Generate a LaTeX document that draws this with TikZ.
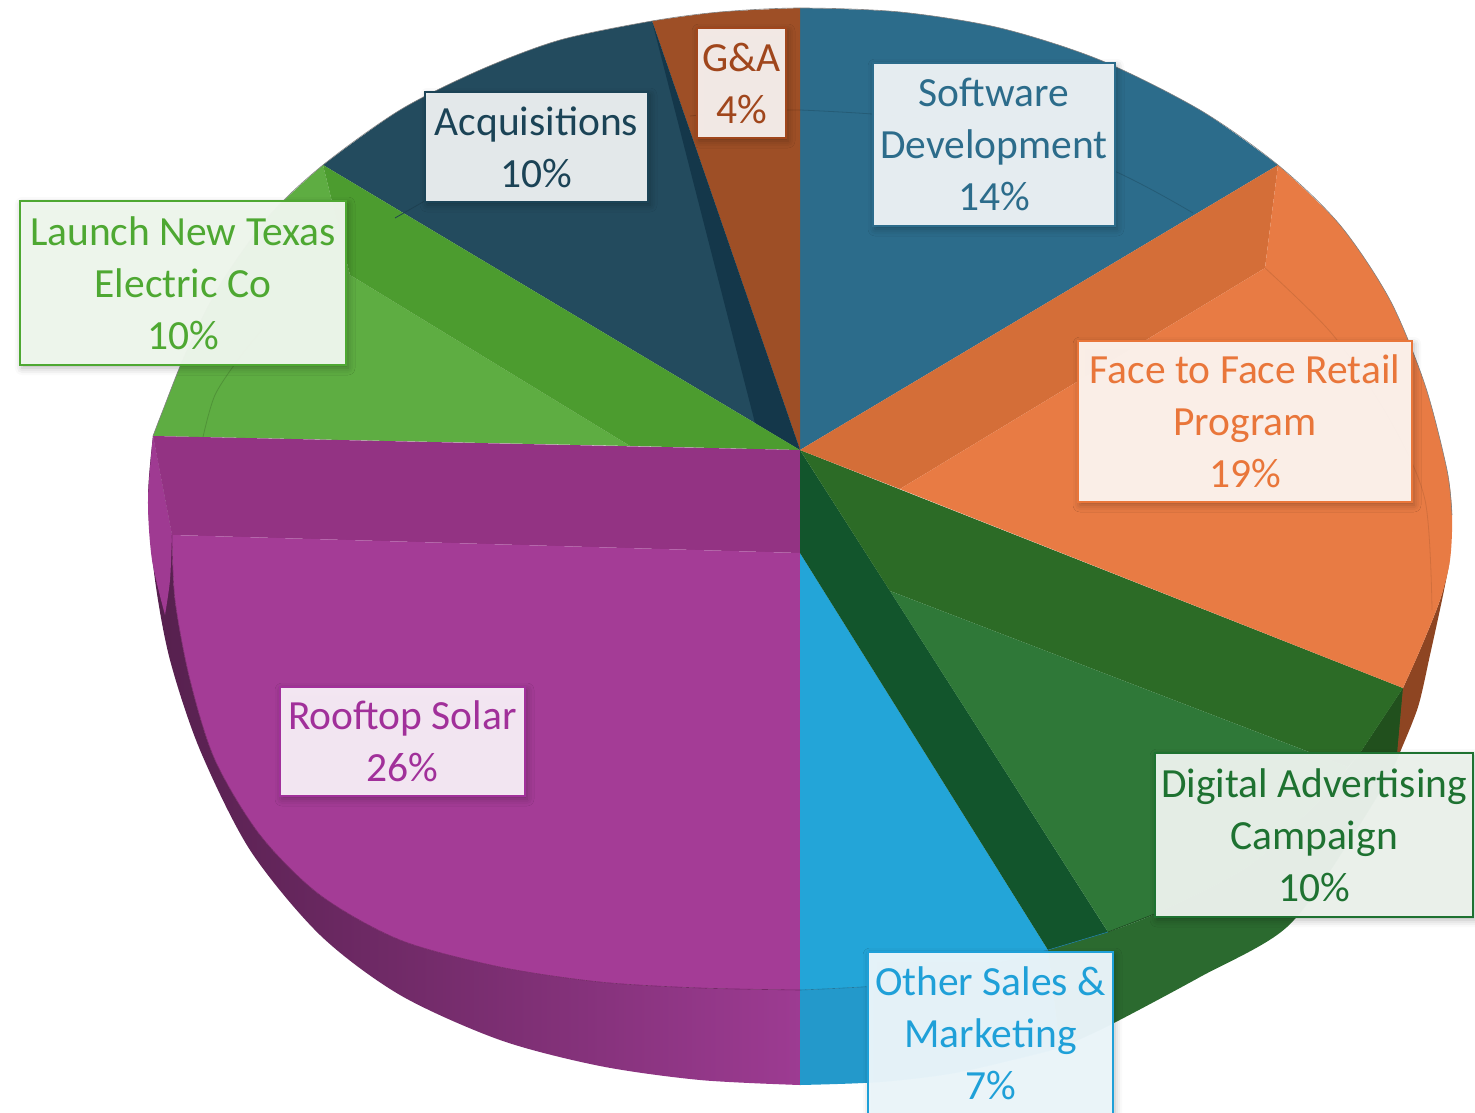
\documentclass[tikz,border=0pt]{standalone}
\usepackage{fontspec}
\setmainfont{Carlito}
\usetikzlibrary{shadows.blur}

\definecolor{softblue}{HTML}{2C6C8B}
\definecolor{gabrown}{HTML}{9E4F26}
\definecolor{gatext}{HTML}{A0461C}
\definecolor{acqnavy}{HTML}{234B5E}
\definecolor{acqband}{HTML}{14374A}
\definecolor{acqtext}{HTML}{1B4356}
\definecolor{launchgreen}{HTML}{5EAD42}
\definecolor{launchwall}{HTML}{4C9C2F}
\definecolor{launchtext}{HTML}{4EA832}
\definecolor{roofpurple}{HTML}{A43C96}
\definecolor{roofband}{HTML}{933383}
\definecolor{roofdark}{HTML}{55204D}
\definecolor{roofmid}{HTML}{8E3785}
\definecolor{roofright}{HTML}{9D3B92}
\definecolor{rooftext}{HTML}{A1309A}
\definecolor{otherblue}{HTML}{23A5D8}
\definecolor{otherside}{HTML}{2399CB}
\definecolor{othertext}{HTML}{1FA0D8}
\definecolor{digband}{HTML}{12552C}
\definecolor{digwall}{HTML}{2C6B26}
\definecolor{digtop}{HTML}{2F7838}
\definecolor{digside}{HTML}{2B6A2F}
\definecolor{digtext}{HTML}{1E7231}
\definecolor{faceorange}{HTML}{E87B44}
\definecolor{facewall}{HTML}{D46E38}
\definecolor{faceside}{HTML}{8E4522}
\definecolor{facetext}{HTML}{E9763A}

\begin{document}
\begin{tikzpicture}[x=1pt,y=-1pt,
every node/.style={align=center, inner sep=0pt, font=\fontsize{41.5}{52}\selectfont},
tag/.style={draw=#1, fill=#1!9, text=#1, line width=1.8pt,
    fill opacity=0.97, text opacity=1,
    blur shadow={shadow xshift=2pt, shadow yshift=-3pt,
        shadow blur radius=7pt, shadow opacity=30}},
bevel/.style={draw=#1, line width=0.8pt},
rim/.style={draw=#1, line width=0.6pt}]

\useasboundingbox (0,0) rectangle (1475,1113);
\coordinate (c) at (800,450);

% side walls
\shade[left color=roofdark, middle color=roofmid, right color=roofright]
  (800,990) -- plot[smooth] coordinates {(800,990) (700,988) (600,982) (500,967)
  (400,940) (320,895) (260,835) (215,760) (190,680) (175,600) (172,535)}
  -- (153,436) -- plot[smooth] coordinates {(153,436) (148,500) (155,580) (170,660)
  (200,750) (250,850) (320,935) (400,995) (500,1040) (600,1066) (700,1080) (800,1085)}
  -- cycle;
\fill[otherside] (800,990) -- plot[smooth] coordinates {(800,990) (900,984) (980,968) (1048,950)}
  -- (1060,1048) -- plot[smooth] coordinates {(1060,1048) (960,1072) (880,1082) (800,1085)} -- cycle;
\fill[digside] (1048,950) -- (1108,932)
  -- plot[smooth] coordinates {(1108,932) (1157,913) (1250,865) (1320,800) (1360,753)}
  -- (1403,688)
  -- plot[smooth] coordinates {(1403,688) (1400,752) (1350,840) (1287,927) (1200,977) (1110,1025) (1060,1048)}
  -- cycle;
\fill[digwall!75!black] (1403,688) -- (1360,753) -- (1397,755) -- cycle;
\fill[faceside] plot[smooth] coordinates {(1450,560) (1440,600) (1420,650) (1403,688)}
  -- (1397,755) -- plot[smooth] coordinates {(1400,752) (1418,707) (1430,655) (1442,600) (1450,560)}
  -- cycle;

% tops and radial walls
\fill[softblue] (c) -- (800,8)
  -- plot[smooth] coordinates {(800,8) (900,12) (1000,28) (1100,60) (1200,110) (1278,165)} -- cycle;
\fill[gabrown] (c) -- (652,21) -- plot[smooth] coordinates {(652,21) (720,12) (800,8)} -- cycle;
\fill[acqnavy] (c) -- (323,165)
  -- plot[smooth] coordinates {(323,165) (400,110) (480,70) (560,40) (652,21)} -- cycle;
\fill[acqband] (652,21) -- (755,423) -- (c) -- cycle;
\fill[launchgreen] (350,275) -- (323,165)
  -- plot[smooth] coordinates {(323,165) (270,215) (220,285) (185,355) (163,410) (153,436)}
  -- (630,446) -- cycle;
\fill[launchwall] (323,165) -- (c) -- (630,446) -- (350,275) -- cycle;
\fill[roofband] (153,436) -- (c) -- (800,553) -- (172,535) -- cycle;
\fill[roofpurple] (172,535) -- (800,553) -- (800,990)
  -- plot[smooth] coordinates {(800,990) (700,988) (600,982) (500,967) (400,940) (320,895)
  (260,835) (215,760) (190,680) (175,600) (172,535)} -- cycle;
\fill[roofpurple!97!black] (153,436) -- (172,535)
  -- plot[smooth] coordinates {(172,535) (170,580) (165,615)}
  -- plot[smooth] coordinates {(165,615) (152,560) (148,500) (153,436)} -- cycle;
\fill[otherblue] (800,553) -- (800,990)
  -- plot[smooth] coordinates {(800,990) (900,984) (980,968) (1048,950)} -- cycle;
\fill[digband] (c) -- (800,553) -- (1048,950) -- (1108,932) -- cycle;
\fill[digwall] (c) -- (1403,688) -- (1360,753) -- (1348,767) -- (890,591) -- cycle;
\fill[digtop] (890,591) -- (1348,767)
  -- plot[smooth] coordinates {(1348,767) (1320,800) (1250,865) (1157,913) (1108,932)} -- cycle;
\fill[facewall] (c) -- (1278,165) -- (1265,268) -- (900,489) -- cycle;
\fill[faceorange] (900,489) -- (1265,268) -- (1278,165)
  -- plot[smooth] coordinates {(1278,165) (1340,225) (1390,300) (1425,385) (1447,470)
  (1452,515) (1450,560) (1440,600) (1420,650) (1403,688)} -- cycle;

% bevel and rim lines
\draw[bevel=softblue!85!black] plot[smooth] coordinates {(800,110) (950,122) (1100,165) (1193,213)};
\draw[bevel=gabrown!85!black] plot[smooth] coordinates {(690,116) (745,111) (800,110)};
\draw[bevel=acqnavy!85!black] (395,218) -- (430,198);
\draw[bevel=faceorange!90!black] plot[smooth] coordinates {(1265,268) (1333,335) (1390,420) (1425,500) (1432,610)};
\draw[bevel=launchgreen!85!black] plot[smooth] coordinates {(203,437) (215,395) (240,357) (262,330)};
\draw[rim=black!50] plot[smooth] coordinates {(153,436) (163,410) (185,355) (220,285) (270,215)
  (323,165) (400,110) (480,70) (560,40) (652,21) (720,12) (800,8) (900,12) (1000,28) (1100,60)
  (1200,110) (1278,165) (1340,225) (1390,300) (1425,385) (1447,470) (1452,515)};
\draw[rim=roofband!80!black] plot[smooth] coordinates {(800,990) (700,988) (600,982) (500,967)
  (400,940) (320,895) (260,835) (215,760) (190,680) (175,600) (172,535)};
\draw[rim=otherside!80!black] plot[smooth] coordinates {(800,990) (900,984) (980,968) (1048,950)};
\draw[rim=otherside!80!black] (1048,950) -- (1108,932);
\draw[rim=digside!70!black] (1108,932) -- (1157,913);

% labels
\node[tag=softblue, minimum width=242, minimum height=163] (soft) at (994,144.5)
  {Software\\Development\\14\%};
\node[tag=gatext, minimum width=89, minimum height=110] (ga) at (741.5,83) {G\&A\\4\%};
\node[tag=acqtext, minimum width=223, minimum height=110] (acq) at (536.5,147)
  {Acquisitions\\10\%};
\node[tag=launchtext, minimum width=326, minimum height=164] (launch) at (183,283)
  {Launch New Texas\\Electric Co\\10\%};
\node[tag=facetext, minimum width=334, minimum height=161] (face) at (1245,421.5)
  {Face to Face Retail\\Program\\19\%};
\node[tag=rooftext, minimum width=245, minimum height=109] (roof) at (402.5,741.5)
  {Rooftop Solar\\26\%};
\node[tag=digtext, minimum width=318, minimum height=164] (dig) at (1314,835)
  {Digital Advertising\\Campaign\\10\%};
\node[tag=othertext, minimum width=245, minimum height=163] (other) at (990.5,1033.5)
  {Other Sales \&\\Marketing\\7\%};
\end{tikzpicture}
\end{document}
